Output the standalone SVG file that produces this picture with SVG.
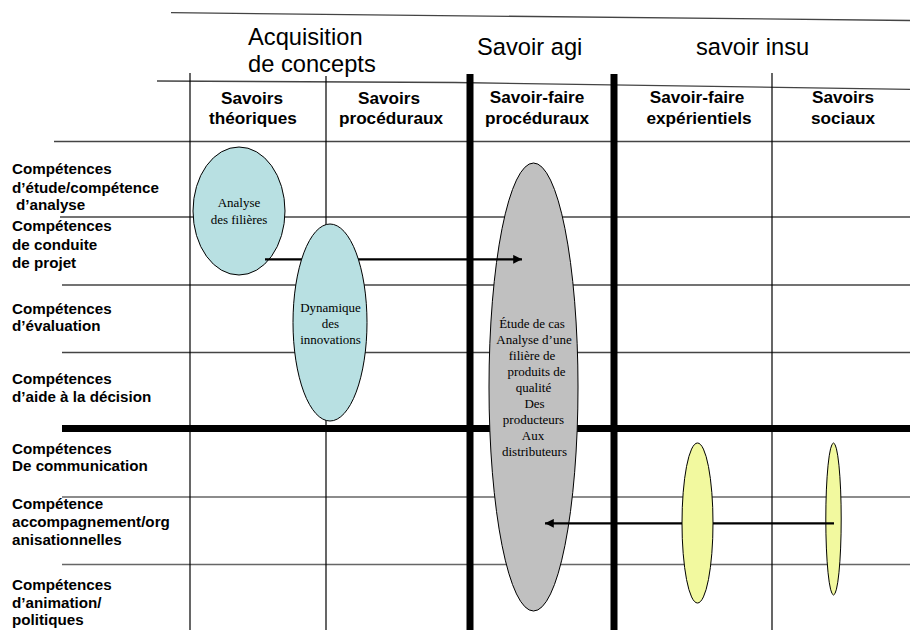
<svg xmlns="http://www.w3.org/2000/svg" width="910" height="630" viewBox="0 0 910 630">
<style>
.big{font-family:"Liberation Sans",Arial,sans-serif;font-size:23.7px;fill:#000}
.hd{font-family:"Liberation Sans",Arial,sans-serif;font-size:17.2px;font-weight:bold;fill:#000;text-anchor:middle}
.rl{font-family:"Liberation Sans",Arial,sans-serif;font-size:15.2px;font-weight:bold;fill:#000}
.et{font-family:"Liberation Serif","Times New Roman",serif;font-size:13px;fill:#000;text-anchor:middle}
.hl{stroke:#444;stroke-width:1.3;fill:none}
.vl{stroke:#000;stroke-width:1.2;fill:none}
.thick{stroke:#000;stroke-width:7;fill:none}
.blue{fill:#b8e0e2;stroke:#000;stroke-width:1}
.gray{fill:#c0c0c0;stroke:#000;stroke-width:1}
.yel{fill:#f2f99f;stroke:#000;stroke-width:1}
.conn{stroke:#000;stroke-width:2.2;fill:none}
</style>
<defs>
<marker id="ah" viewBox="0 0 10 10" refX="10" refY="5" markerWidth="5" markerHeight="4" markerUnits="strokeWidth" orient="auto">
<path d="M0,0 L10,5 L0,10 Z" fill="#000"/>
</marker>
</defs>
<rect width="910" height="630" fill="#fff"/>
<g id="grid">
<line class="hl" x1="171" y1="12.7" x2="910" y2="20.5"/>
<polyline class="hl" points="157,81 455,82.5 910,89.3"/>
<line class="hl" x1="54" y1="141.5" x2="910" y2="141.5"/>
<line class="hl" x1="60" y1="217" x2="910" y2="217"/>
<line class="hl" x1="62" y1="285" x2="910" y2="285"/>
<line class="hl" x1="62" y1="352.5" x2="910" y2="352.5"/>
<line class="hl" x1="62" y1="497" x2="910" y2="497" style="stroke:#666"/>
<line class="hl" x1="62" y1="564.5" x2="910" y2="564.5" style="stroke:#666"/>
<line class="vl" x1="190" y1="73" x2="190" y2="630"/>
<line class="vl" x1="326" y1="76" x2="326" y2="630"/>
<line class="vl" x1="772" y1="73" x2="772" y2="630"/>
<line class="thick" x1="62" y1="428.5" x2="910" y2="428.5"/>
<line class="thick" x1="470" y1="74" x2="470" y2="630"/>
<line class="thick" x1="614" y1="74" x2="614" y2="630"/>
</g>
<g id="group-headers">
<text class="big" x="248" y="45">Acquisition</text>
<text class="big" x="248" y="72">de concepts</text>
<text class="big" x="477" y="55">Savoir agi</text>
<text class="big" x="696" y="55">savoir insu</text>
</g>
<g id="column-headers">
<text class="hd" x="252" y="104">Savoirs</text>
<text class="hd" x="253" y="124.3">théoriques</text>
<text class="hd" x="389" y="104">Savoirs</text>
<text class="hd" x="391" y="124.3">procéduraux</text>
<text class="hd" x="537" y="103.3">Savoir-faire</text>
<text class="hd" x="537" y="124.3">procéduraux</text>
<text class="hd" x="697" y="103.3">Savoir-faire</text>
<text class="hd" x="699" y="124.3">expérientiels</text>
<text class="hd" x="843" y="103.3">Savoirs</text>
<text class="hd" x="843" y="124.3">sociaux</text>
</g>
<g id="row-labels">
<text class="rl" x="12" y="174">Compétences</text>
<text class="rl" x="12" y="192.5">d’étude/compétence</text>
<text class="rl" x="16" y="210">d’analyse</text>
<text class="rl" x="12" y="231">Compétences</text>
<text class="rl" x="12" y="249.5">de conduite</text>
<text class="rl" x="12" y="267.5">de projet</text>
<text class="rl" x="12" y="314">Compétences</text>
<text class="rl" x="12" y="331">d’évaluation</text>
<text class="rl" x="12" y="384">Compétences</text>
<text class="rl" x="12" y="401.5">d’aide à la décision</text>
<text class="rl" x="12" y="454">Compétences</text>
<text class="rl" x="12" y="470.7">De communication</text>
<text class="rl" x="12" y="508.5">Compétence</text>
<text class="rl" x="12" y="526.7">accompagnement/org</text>
<text class="rl" x="12" y="545">anisationnelles</text>
<text class="rl" x="12" y="590">Compétences</text>
<text class="rl" x="12" y="607.5">d’animation/</text>
<text class="rl" x="12" y="625">politiques</text>
</g>
<g id="node-analyse">
<ellipse class="blue" cx="239" cy="211" rx="46" ry="64"/>
<text class="et" x="239" y="207">Analyse</text>
<text class="et" x="239" y="224">des filières</text>
</g>
<g id="node-etude">
<ellipse class="gray" cx="533.5" cy="387" rx="44.5" ry="224"/>
<text class="et" x="532" y="327.7">Étude de cas</text>
<text class="et" x="534" y="344.3">Analyse d’une</text>
<text class="et" x="532" y="360.3">filière de</text>
<text class="et" x="536.5" y="375.7">produits de</text>
<text class="et" x="533.5" y="392.3">qualité</text>
<text class="et" x="534.5" y="408.3">Des</text>
<text class="et" x="533.5" y="424.3">producteurs</text>
<text class="et" x="533" y="440">Aux</text>
<text class="et" x="534.5" y="456">distributeurs</text>
</g>
<g id="node-sociaux">
<ellipse class="yel" cx="833.5" cy="519" rx="7.7" ry="76"/>
</g>
<g id="connectors">
<line class="conn" x1="265" y1="259.3" x2="522" y2="259.3" marker-end="url(#ah)"/>
<line class="conn" x1="834" y1="523.3" x2="545" y2="523.3" marker-end="url(#ah)"/>
</g>
<g id="node-dynamique">
<ellipse class="blue" cx="330" cy="322.5" rx="37" ry="98.5"/>
<text class="et" x="330.5" y="312">Dynamique</text>
<text class="et" x="330.5" y="328">des</text>
<text class="et" x="330.5" y="344">innovations</text>
</g>
<g id="node-experientiels">
<ellipse class="yel" cx="697.5" cy="523" rx="15.5" ry="80"/>
</g>
</svg>
